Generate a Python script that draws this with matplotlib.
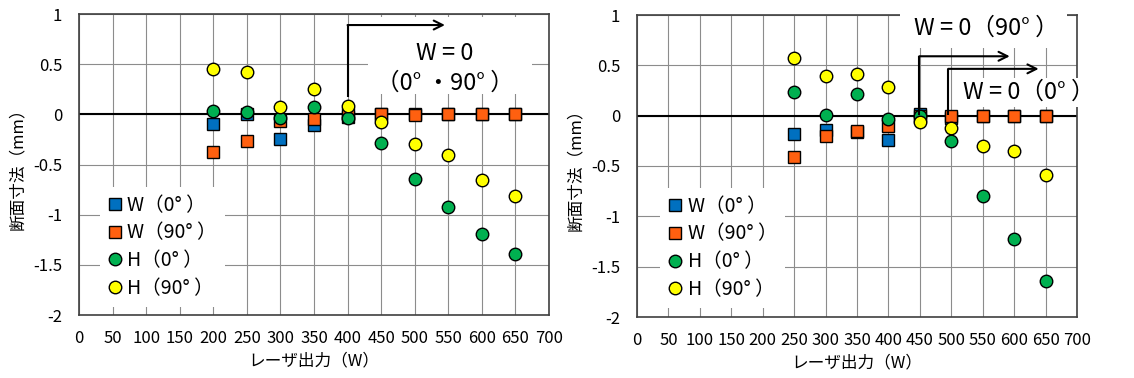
import matplotlib
matplotlib.use("Agg")
import matplotlib.pyplot as plt
from matplotlib.patches import Rectangle

plt.rcParams['font.family'] = ['Noto Sans CJK JP', 'DejaVu Sans']

# ---------------- data ----------------
power = [200, 250, 300, 350, 400, 450, 500, 550, 600, 650]
L_W0 = [-0.10, 0.00, -0.25, -0.11, -0.03, 0.0, 0.0, 0.0, 0.0, 0.0]
L_W90 = [-0.38, -0.27, -0.07, -0.05, 0.005, 0.0, -0.01, 0.0, 0.0, 0.0]
L_H0 = [0.03, 0.02, -0.04, 0.07, -0.035, -0.29, -0.64, -0.92, -1.19, -1.39]
L_H90 = [0.45, 0.42, 0.07, 0.25, 0.08, -0.08, -0.30, -0.41, -0.65, -0.81]

power_r = [250, 300, 350, 400, 450, 500, 550, 600, 650]
R_W0 = [-0.18, -0.14, -0.16, -0.24, 0.015, -0.02, 0.0, 0.0, 0.0]
R_W90 = [-0.41, -0.205, -0.15, -0.10, 0.0, 0.0, 0.0, 0.0, 0.0]
R_H0 = [0.235, 0.01, 0.22, -0.03, 0.0, -0.25, -0.80, -1.23, -1.64]
R_H90 = [0.575, 0.39, 0.41, 0.28, -0.06, -0.125, -0.30, -0.355, -0.59]

series_labels = ['W（0° ）', 'W（90° ）', 'H（0° ）', 'H（90° ）']
series_colors = ['#0070C0', '#FF6010', '#00B050', '#FFFF00']
series_markers = ['s', 's', 'o', 'o']

xticks = list(range(0, 701, 50))
yticks = [1, 0.5, 0, -0.5, -1, -1.5, -2]
ytick_labels = ['1', '0.5', '0', '-0.5', '-1', '-1.5', '-2']

xlabel = 'レーザ出力（W）'
ylabel = '断面寸法（mm）'

# ---------------- figure ----------------
W, H = 1134, 378
fig = plt.figure(figsize=(W / 100, H / 100), dpi=100)
axL = fig.add_axes([79 / W, (H - 315) / H, 470 / W, 301 / H])
axR = fig.add_axes([637 / W, (H - 317) / H, 440 / W, 302 / H])


def setup(ax, xs, data, leg_anchor):
    ax.set_xlim(0, 700)
    ax.set_ylim(-2, 1)
    ax.set_xticks(xticks)
    ax.set_xticklabels([str(t) for t in xticks], fontsize=12)
    ax.set_yticks(yticks)
    ax.set_yticklabels(ytick_labels, fontsize=12)
    ax.tick_params(length=0, pad=12)
    ax.tick_params(axis='x', pad=11)
    ax.set_axisbelow(True)
    ax.grid(True, color='#8c8c8c', lw=0.8)
    for s in ax.spines.values():
        s.set_color('#404040')
        s.set_linewidth(1.2)
    ax.axhline(0, color='black', lw=1.5, zorder=2)
    handles = []
    for vals, lab, col, mk in zip(data, series_labels, series_colors, series_markers):
        h, = ax.plot(xs, vals, linestyle='none', marker=mk, ms=8.5 if mk == 's' else 9,
                     mfc=col, mec='black', mew=1.0, label=lab, zorder=3)
        handles.append(h)
    ax.set_xlabel(xlabel, fontsize=12, labelpad=4)
    ax.set_ylabel(ylabel, fontsize=12, labelpad=5)
    leg = ax.legend(handles=handles, loc='lower left', bbox_to_anchor=leg_anchor,
                    frameon=True, facecolor='white', edgecolor='none', framealpha=1,
                    fontsize=14, handlelength=0.7, handletextpad=0.3,
                    labelspacing=0.35, borderpad=0.4, borderaxespad=0, fancybox=False)
    leg.set_zorder(2.7)
    return ax


setup(axL, power, [L_W0, L_W90, L_H0, L_H90], (0.045, 0.027))
setup(axR, power_r, [R_W0, R_W90, R_H0, R_H90], (0.053, 0.03))

arrow_kw = dict(arrowstyle='->', color='black', lw=1.5, mutation_scale=16,
                shrinkA=0, shrinkB=0)

# left annotation
axL.add_patch(Rectangle((430, 0.2), 245, 0.77, facecolor='white', edgecolor='none', zorder=2.6))
axL.plot([400, 400], [0.17, 0.89], color='black', lw=1.5, zorder=4, solid_capstyle='butt')
axL.annotate('', xy=(545, 0.89), xytext=(400, 0.89), arrowprops=arrow_kw, zorder=4)
axL.text(545, 0.61, 'W = 0', ha='center', va='center', fontsize=17, zorder=5)
axL.text(545, 0.31, '（0° ・90° ）', ha='center', va='center', fontsize=17, zorder=5)

# right annotation
axR.add_patch(Rectangle((419, 0.67), 265, 0.42, facecolor='white', edgecolor='none',
                        zorder=2.6, clip_on=False))
axR.add_patch(Rectangle((509, 0.09), 200, 0.28, facecolor='white', edgecolor='none',
                        zorder=2.6, clip_on=False))
axR.plot([449, 449], [0.01, 0.59], color='black', lw=1.5, zorder=4, solid_capstyle='butt')
axR.annotate('', xy=(593, 0.59), xytext=(449, 0.59), arrowprops=arrow_kw, zorder=4)
axR.plot([495, 495], [0.01, 0.465], color='black', lw=1.5, zorder=4, solid_capstyle='butt')
axR.annotate('', xy=(639, 0.465), xytext=(495, 0.465), arrowprops=arrow_kw, zorder=4)
axR.text(556, 0.87, 'W = 0（90° ）', ha='center', va='center', fontsize=17, zorder=5)
axR.text(624, 0.23, 'W = 0（0° ）', ha='center', va='center', fontsize=17, zorder=5,
         clip_on=False)

fig.savefig('out.png', dpi=100)
